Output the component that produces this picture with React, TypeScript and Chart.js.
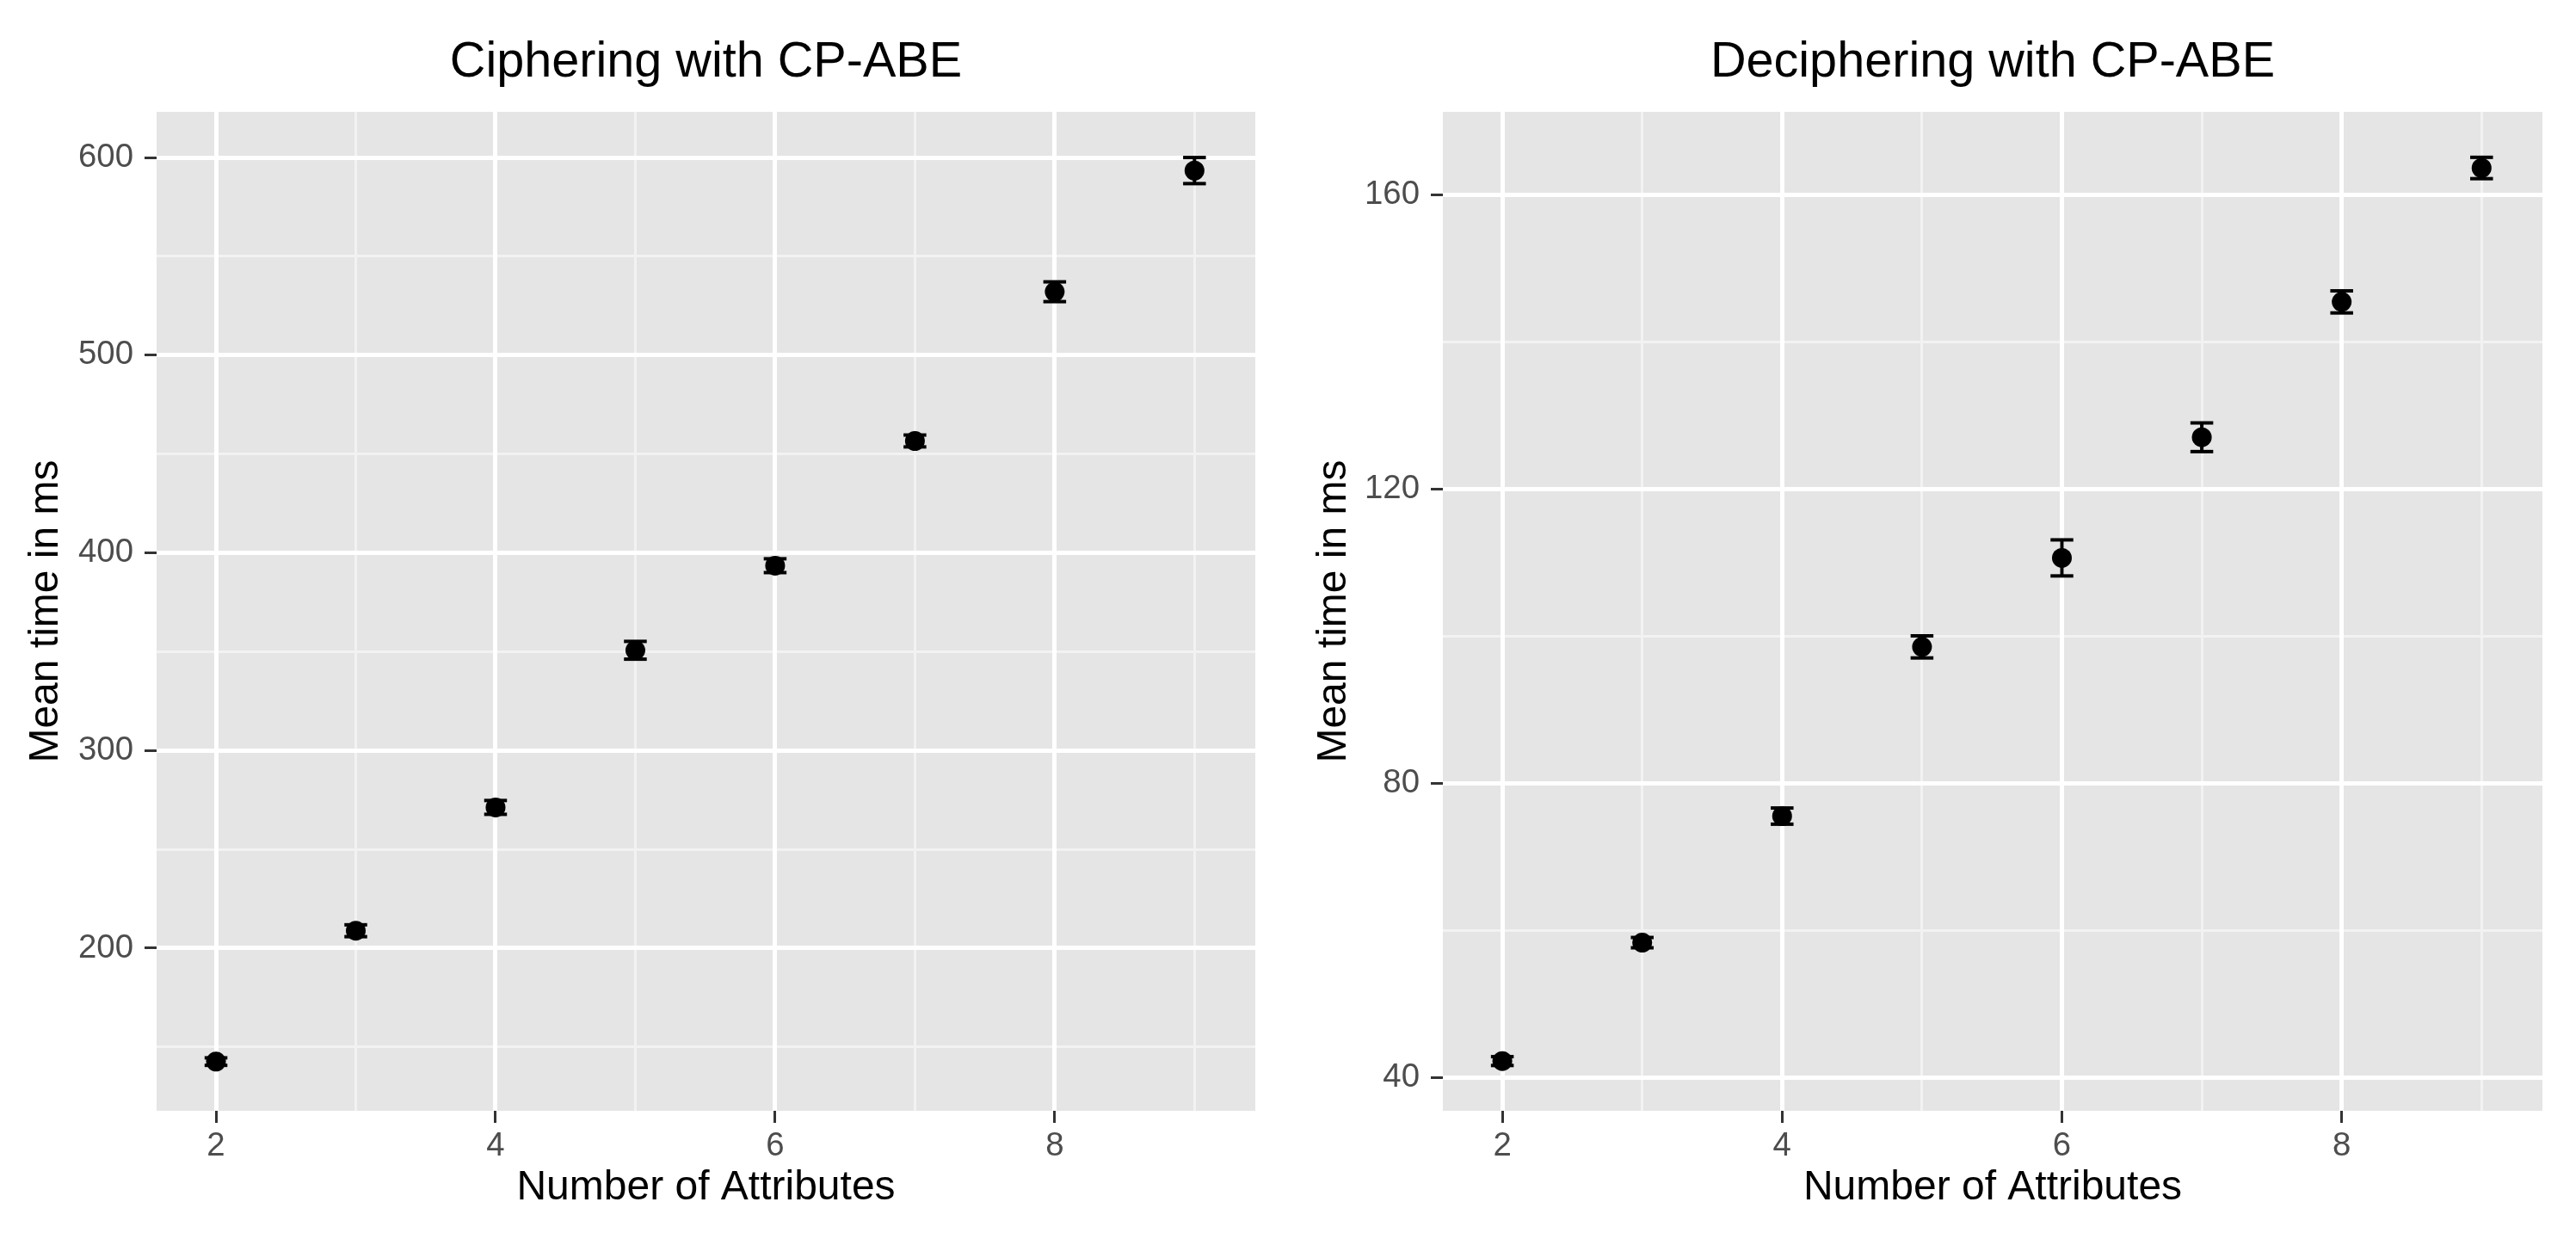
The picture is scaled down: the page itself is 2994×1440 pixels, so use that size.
import React, { useEffect, useRef } from "react";
import { Chart, registerables } from "chart.js";

Chart.register(...registerables);

// ---- data ----
const attributes = [2, 3, 4, 5, 6, 7, 8, 9];

const cipherMean = [142.6, 208.8, 271.2, 350.7, 393.5, 456.6, 532.1, 593.4];
const cipherErr = [1.9, 3.0, 3.5, 4.5, 3.5, 3.0, 5.0, 6.6];

const decipherMean = [42.2, 58.3, 75.5, 98.5, 110.6, 127.0, 145.4, 163.6];
const decipherErr = [0.6, 0.7, 1.1, 1.5, 2.45, 1.95, 1.5, 1.45];

const xTicks = [2, 4, 6, 8];
const xMinorTicks = [3, 5, 7, 9];
const cipherYTicks = [200, 300, 400, 500, 600];
const cipherYMinorTicks = [150, 250, 350, 450, 550];
const decipherYTicks = [40, 80, 120, 160];
const decipherYMinorTicks = [60, 100, 140];

const xRange = { min: 1.575, max: 9.435 };
const cipherYRange = { min: 117.7, max: 623.1 };
const decipherYRange = { min: 35.44, max: 171.23 };

const FONT = "'Liberation Sans', Arial, Helvetica, sans-serif";

const panelBg = {
  id: "panelBg",
  beforeDraw(chart: any) {
    const { ctx, chartArea } = chart;
    ctx.save();
    ctx.fillStyle = "#e5e5e5";
    ctx.fillRect(chartArea.left, chartArea.top, chartArea.width, chartArea.height);
    ctx.restore();
  },
};

type PanelProps = {
  title: string;
  means: number[];
  errs: number[];
  yTicks: number[];
  yMinor: number[];
  yRange: { min: number; max: number };
  axisWidth: number;
  padRight: number;
};

function Panel(p: PanelProps) {
  const ref = useRef<HTMLCanvasElement | null>(null);
  useEffect(() => {
    if (!ref.current) return;
    const lo = p.means.map((m, i) => m - p.errs[i]);
    const hi = p.means.map((m, i) => m + p.errs[i]);
    const chart = new Chart(ref.current, {
      type: "scatter",
      data: {
        datasets: [
          {
            label: "mean",
            data: attributes.map((x, i) => ({ x, y: p.means[i] })),
            pointRadius: 11.5,
            pointBackgroundColor: "#000000",
            pointBorderWidth: 0,
            pointHoverRadius: 11.5,
          } as any,
          {
            label: "caps",
            data: attributes.flatMap((x, i) => [
              { x, y: lo[i] },
              { x, y: hi[i] },
            ]),
            pointStyle: "line",
            pointRadius: 13.25,
            pointBorderWidth: 4,
            pointBorderColor: "#000000",
            borderColor: "#000000",
          } as any,
          {
            type: "line",
            label: "stems",
            data: attributes.flatMap((x, i) => [
              { x, y: lo[i] },
              { x, y: hi[i] },
              { x, y: null },
            ]),
            borderColor: "#000000",
            borderWidth: 4,
            pointRadius: 0,
            spanGaps: false,
            fill: false,
            tension: 0,
          } as any,
        ],
      },
      options: {
        animation: false,
        responsive: false,
        devicePixelRatio: 1,
        events: [],
        layout: { padding: { left: 0, right: p.padRight, top: 0, bottom: 0 } },
        plugins: {
          legend: { display: false },
          tooltip: { enabled: false },
          title: {
            display: true,
            text: p.title,
            color: "#000000",
            font: { family: FONT, size: 57.6, weight: "normal" as any },
            padding: { top: 38.5, bottom: 22.4 },
            fullSize: false,
            align: "center",
          },
        },
        scales: {
          x: {
            type: "linear",
            position: "bottom",
            min: xRange.min,
            max: xRange.max,
            afterBuildTicks: (s: any) => {
              s.ticks = xTicks.map((v) => ({ value: v }));
            },
            afterFit: (s: any) => {
              s.height = 149;
            },
            ticks: {
              color: "#4d4d4d",
              font: { family: FONT, size: 38.4 },
              padding: 4,
              maxRotation: 0,
              autoSkip: false,
              callback: (v: any) => String(v),
            },
            grid: {
              color: "#ffffff",
              lineWidth: 5,
              tickColor: "#333333",
              tickWidth: 3,
              tickLength: 14,
              z: -1,
            },
            border: { display: false },
            title: {
              display: true,
              text: "Number of Attributes",
              color: "#000000",
              font: { family: FONT, size: 48 },
              padding: { top: 0, bottom: 30 },
            },
          },
          xMinor: {
            type: "linear",
            position: "bottom",
            min: xRange.min,
            max: xRange.max,
            afterBuildTicks: (s: any) => {
              s.ticks = xMinorTicks.map((v) => ({ value: v }));
            },
            afterFit: (s: any) => {
              s.height = 0;
            },
            ticks: { display: false },
            grid: { color: "#f2f2f2", lineWidth: 3, drawTicks: false, z: -2 },
            border: { display: false },
          },
          y: {
            type: "linear",
            position: "left",
            min: p.yRange.min,
            max: p.yRange.max,
            afterBuildTicks: (s: any) => {
              s.ticks = p.yTicks.map((v) => ({ value: v }));
            },
            afterFit: (s: any) => {
              s.width = p.axisWidth;
            },
            ticks: {
              color: "#4d4d4d",
              font: { family: FONT, size: 38.4 },
              padding: 13,
              autoSkip: false,
              callback: (v: any) => String(v),
            },
            grid: {
              color: "#ffffff",
              lineWidth: 5,
              tickColor: "#333333",
              tickWidth: 3,
              tickLength: 14,
              z: -1,
            },
            border: { display: false },
            title: {
              display: true,
              text: "Mean time in ms",
              color: "#000000",
              font: { family: FONT, size: 48 },
              padding: { top: 24.6, bottom: 0 },
            },
          },
          yMinor: {
            type: "linear",
            position: "left",
            min: p.yRange.min,
            max: p.yRange.max,
            afterBuildTicks: (s: any) => {
              s.ticks = p.yMinor.map((v) => ({ value: v }));
            },
            afterFit: (s: any) => {
              s.width = 0;
            },
            ticks: { display: false },
            grid: { color: "#f2f2f2", lineWidth: 3, drawTicks: false, z: -2 },
            border: { display: false },
          },
        },
      } as any,
      plugins: [panelBg],
    });
    return () => chart.destroy();
  }, []);
  return (
    <canvas
      ref={ref}
      width={1497}
      height={1440}
      style={{ display: "block", width: 1497, height: 1440 }}
    />
  );
}

export default function App() {
  return (
    <div
      style={{
        position: "fixed",
        left: 0,
        top: 0,
        width: 2994,
        height: 1440,
        display: "flex",
        background: "#ffffff",
      }}
    >
      <Panel
        title="Ciphering with CP-ABE"
        means={cipherMean}
        errs={cipherErr}
        yTicks={cipherYTicks}
        yMinor={cipherYMinorTicks}
        yRange={cipherYRange}
        axisWidth={182}
        padRight={38}
      />
      <Panel
        title="Deciphering with CP-ABE"
        means={decipherMean}
        errs={decipherErr}
        yTicks={decipherYTicks}
        yMinor={decipherYMinorTicks}
        yRange={decipherYRange}
        axisWidth={180}
        padRight={39}
      />
    </div>
  );
}
